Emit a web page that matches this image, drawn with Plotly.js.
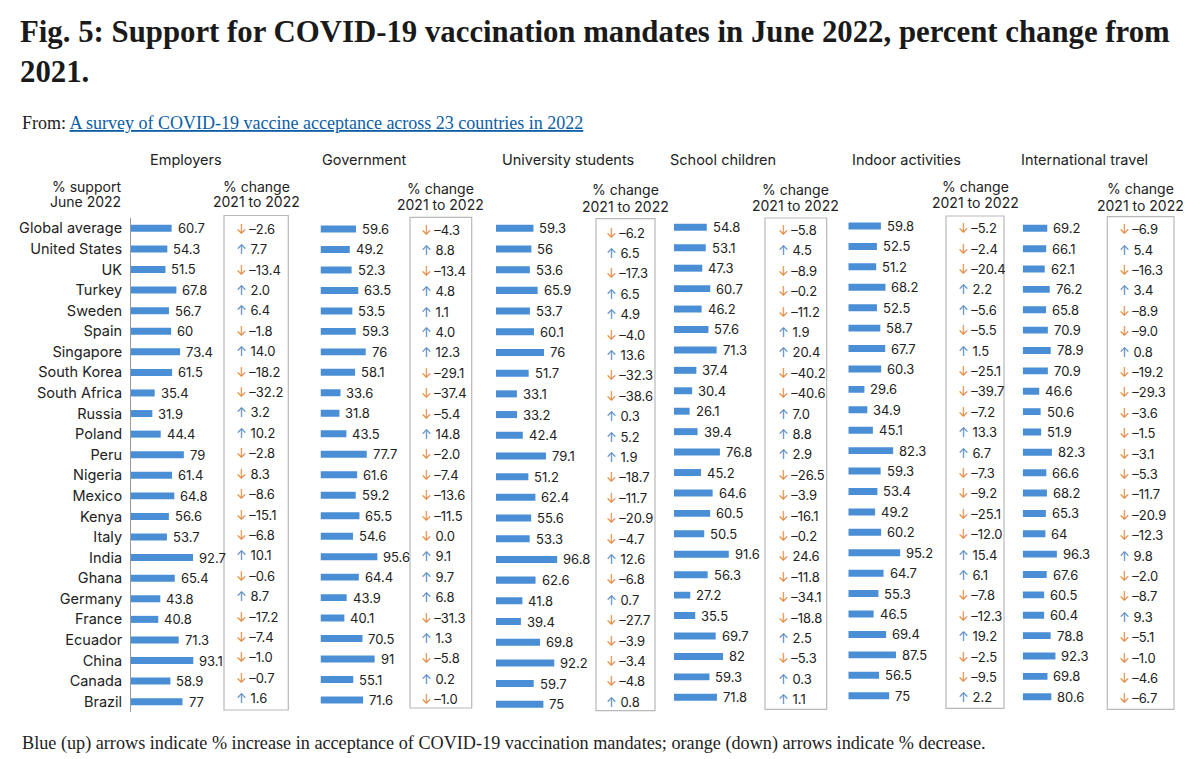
<!DOCTYPE html>
<html><head><meta charset="utf-8">
<script src="https://cdn.plot.ly/plotly-3.0.1.min.js"></script>
<style>html,body{margin:0;padding:0;background:#fff}#chart{width:1200px;height:759px}</style>
</head><body><div id="chart"></div>
<script>
const countries = ["Global average","United States","UK","Turkey","Sweden","Spain","Singapore","South Korea","South Africa","Russia","Poland","Peru","Nigeria","Mexico","Kenya","Italy","India","Ghana","Germany","France","Ecuador","China","Canada","Brazil"];
const panelTitles = ["Employers","Government","University students","School children","Indoor activities","International travel"];

const employersSupport = [60.7,54.3,51.5,67.8,56.7,60,73.4,61.5,35.4,31.9,44.4,79,61.4,64.8,56.6,53.7,92.7,65.4,43.8,40.8,71.3,93.1,58.9,77];
const employersChange  = [-2.6,7.7,-13.4,2.0,6.4,-1.8,14.0,-18.2,-32.2,3.2,10.2,-2.8,8.3,-8.6,-15.1,-6.8,10.1,-0.6,8.7,-17.2,-7.4,-1.0,-0.7,1.6];
const employersArrows  = "duduudud" + "duuddddd" + "ududdddu";

const governmentSupport = [59.6,49.2,52.3,63.5,53.5,59.3,76,58.1,33.6,31.8,43.5,77.7,61.6,59.2,65.5,54.6,95.6,64.4,43.9,40.1,70.5,91,55.1,71.6];
const governmentChange  = [-4.3,8.8,-13.4,4.8,1.1,4.0,12.3,-29.1,-37.4,-5.4,14.8,-2.0,-7.4,-13.6,-11.5,0.0,9.1,9.7,6.8,-31.3,1.3,-5.8,0.2,-1.0];
const governmentArrows  = "duduuuud" + "dduddddd" + "uuududud";

const universitySupport = [59.3,56,53.6,65.9,53.7,60.1,76,51.7,33.1,33.2,42.4,79.1,51.2,62.4,55.6,53.3,96.8,62.6,41.8,39.4,69.8,92.2,59.7,75];
const universityChange  = [-6.2,6.5,-17.3,6.5,4.9,-4.0,13.6,-32.3,-38.6,0.3,5.2,1.9,-18.7,-11.7,-20.9,-4.7,12.6,-6.8,0.7,-27.7,-3.9,-3.4,-4.8,0.8];
const universityArrows  = "duduudud" + "duuudddd" + "ududdddu";

const schoolSupport = [54.8,53.1,47.3,60.7,46.2,57.6,71.3,37.4,30.4,26.1,39.4,76.8,45.2,64.6,60.5,50.5,91.6,56.3,27.2,35.5,69.7,82,59.3,71.8];
const schoolChange  = [-5.8,4.5,-8.9,-0.2,-11.2,1.9,20.4,-40.2,-40.6,7.0,8.8,2.9,-26.5,-3.9,-16.1,-0.2,24.6,-11.8,-34.1,-18.8,2.5,-5.3,0.3,1.1];
const schoolArrows  = "duddduud" + "duuudddd" + "dddduduu";

const indoorSupport = [59.8,52.5,51.2,68.2,52.5,58.7,67.7,60.3,29.6,34.9,45.1,82.3,59.3,53.4,49.2,60.2,95.2,64.7,55.3,46.5,69.4,87.5,56.5,75];
const indoorChange  = [-5.2,-2.4,-20.4,2.2,-5.6,-5.5,1.5,-25.1,-39.7,-7.2,13.3,6.7,-7.3,-9.2,-25.1,-12.0,15.4,6.1,-7.8,-12.3,19.2,-2.5,-9.5,2.2];
const indoorArrows  = "ddduudud" + "dduudddd" + "uudduddu";

const travelSupport = [69.2,66.1,62.1,76.2,65.8,70.9,78.9,70.9,46.6,50.6,51.9,82.3,66.6,68.2,65.3,64,96.3,67.6,60.5,60.4,78.8,92.3,69.8,80.6];
const travelChange  = [-6.9,5.4,-16.3,3.4,-8.9,-9.0,0.8,-19.2,-29.3,-3.6,-1.5,-3.1,-5.3,-11.7,-20.9,-12.3,9.8,-2.0,-8.7,9.3,-5.1,-1.0,-4.6,-6.7];
const travelArrows  = "dududdud" + "dddddddd" + "uddudddd";

const supports = [employersSupport, governmentSupport, universitySupport, schoolSupport, indoorSupport, travelSupport];
const changes  = [employersChange, governmentChange, universityChange, schoolChange, indoorChange, travelChange];
const arrows   = [employersArrows, governmentArrows, universityArrows, schoolArrows, indoorArrows, travelArrows];

// ---- geometry (pixels) ----
const W = 1200, H = 759;
const px = v => v / W;
const py = v => 1 - v / H;
const geom = [
  {barX0:131,   scale:0.669, barTop:228.3, barBot:701.7, chgTop:228.7, chgBot:698.3, boxL:224,    boxR:288.3,  boxT:215.5, boxB:710,   chgX:234,  titleX:148,  headY1:186, headY2:202},
  {barX0:320.5, scale:0.595, barTop:229.0, barBot:700.0, chgTop:230.0, chgBot:699.3, boxL:410,    boxR:471.7,  boxT:217.3, boxB:708,   chgX:419,  titleX:320,  headY1:188, headY2:204},
  {barX0:496,   scale:0.632, barTop:228.3, barBot:704.3, chgTop:232.7, chgBot:701.7, boxL:596,    boxR:655,    boxT:218.7, boxB:710.7, chgX:604,  titleX:500,  headY1:189, headY2:206},
  {barX0:674,   scale:0.598, barTop:227.3, barBot:697.3, chgTop:230.0, chgBot:699.3, boxL:765,    boxR:826.7,  boxT:218,   boxB:709.3, chgX:775.5,titleX:668,  headY1:189, headY2:205},
  {barX0:848.3, scale:0.545, barTop:226.0, barBot:695.7, chgTop:228.3, chgBot:697.3, boxL:946,    boxR:1004,   boxT:216,   boxB:708.3, chgX:955.5,titleX:850,  headY1:186, headY2:203},
  {barX0:1022.7,scale:0.355, barTop:228.3, barBot:696.7, chgTop:229.3, chgBot:698.3, boxL:1107.3, boxR:1174,   boxT:216.7, boxB:709.3, chgX:1117, titleX:1019, headY1:188, headY2:205}
];
const N = countries.length;
const domainFor = (top, bot) => {
  const step = (bot - top) / (N - 1);
  return [py(bot + step / 2), py(top - step / 2)];
};

const SANS = "Inter, 'Noto Sans', sans-serif";
const SERIF = "'Liberation Serif', 'DejaVu Serif', serif";
const BAR = "#4a8fd5";
const UP = "#4f86bd";
const DOWN = "#e3883a";
const TXT = "#222222";

const fmtChange = v => (v < 0 ? "\u2013" + Math.abs(v).toFixed(1) : v.toFixed(1));

const traces = [];
const layout = {
  width: W, height: H,
  margin: {l: 0, r: 0, t: 0, b: 0},
  paper_bgcolor: "#ffffff", plot_bgcolor: "rgba(0,0,0,0)",
  showlegend: false,
  font: {family: SANS, color: TXT},
  title: {
    text: "Fig. 5: Support for COVID-19 vaccination mandates in June 2022, percent change from<br>2021.",
    x: px(20), xref: "container", xanchor: "left",
    y: 1 - 42 / H, yref: "container", yanchor: "top",
    font: {family: SERIF, size: 30.8, color: "#1a1a1a", weight: "bold"}
  },
  annotations: [],
  shapes: []
};

geom.forEach((g, i) => {
  const k = i + 1;
  const xa = k === 1 ? "x" : "x" + k;
  const ya = k === 1 ? "y" : "y" + k;
  const cy = "y" + (k + 6);
  const width = 95;
  layout[k === 1 ? "xaxis" : "xaxis" + k] = {
    domain: [px(g.barX0), px(g.barX0 + width)],
    range: [0, width / g.scale], anchor: ya,
    showgrid: false, zeroline: false, showline: false, showticklabels: false, ticks: "", fixedrange: true
  };
  layout[k === 1 ? "yaxis" : "yaxis" + k] = {
    domain: domainFor(g.barTop, g.barBot), anchor: xa,
    type: "category", categoryorder: "array", categoryarray: countries,
    range: [N - 0.5, -0.5],
    showgrid: false, zeroline: false,
    showline: k === 1, linecolor: "#9a9a9a", linewidth: 1,
    showticklabels: k === 1,
    ticks: k === 1 ? "outside" : "", ticklen: 5, tickcolor: "rgba(0,0,0,0)",
    tickfont: {family: SANS, size: 14.5, color: TXT},
    automargin: false, fixedrange: true
  };
  layout["yaxis" + (k + 6)] = {
    domain: domainFor(g.chgTop, g.chgBot), anchor: xa,
    range: [N - 0.5, -0.5], visible: false, showgrid: false, zeroline: false, fixedrange: true
  };

  traces.push({
    type: "bar", orientation: "h",
    x: supports[i], y: countries,
    xaxis: xa, yaxis: ya,
    width: 0.34,
    marker: {color: BAR},
    hoverinfo: "skip", cliponaxis: false
  });
  traces.push({
    type: "scatter", mode: "markers",
    x: [0], y: [0], xaxis: xa, yaxis: cy,
    marker: {opacity: 0, size: 1}, hoverinfo: "skip"
  });

  // value labels
  supports[i].forEach((v, j) => {
    layout.annotations.push({
      x: v, y: j, xref: xa, yref: ya,
      text: String(v), showarrow: false,
      xanchor: "left", yanchor: "middle", xshift: 4,
      font: {family: SANS, size: 13, color: TXT}
    });
  });
  // change labels
  changes[i].forEach((v, j) => {
    const up = arrows[i][j] === "u";
    layout.annotations.push({
      x: px(g.chgX), y: j, xref: "paper", yref: cy,
      text: `<span style="color:${up ? UP : DOWN}">${up ? "\u2191" : "\u2193"}</span>${v < 0 ? "\u2009" : " "}${fmtChange(v)}`,
      showarrow: false, xanchor: "left", yanchor: "middle",
      font: {family: SANS, size: 13, color: TXT}
    });
  });
  // panel title
  layout.annotations.push({
    x: px(g.titleX), y: py(159), xref: "paper", yref: "paper",
    text: panelTitles[i], showarrow: false, xanchor: "left", yanchor: "middle",
    font: {family: SANS, size: 14.5, color: TXT}
  });
  // change header
  const cx = (g.boxL + g.boxR) / 2;
  layout.annotations.push({
    x: px(cx), y: py(g.headY1), xref: "paper", yref: "paper",
    text: "% change", showarrow: false, xanchor: "center", yanchor: "middle",
    font: {family: SANS, size: 14, color: TXT}
  });
  layout.annotations.push({
    x: px(cx), y: py(g.headY2), xref: "paper", yref: "paper",
    text: "2021 to 2022", showarrow: false, xanchor: "center", yanchor: "middle",
    font: {family: SANS, size: 14, color: TXT}
  });
  // box
  layout.shapes.push({
    type: "rect", xref: "paper", yref: "paper",
    x0: px(g.boxL), x1: px(g.boxR), y0: py(g.boxB), y1: py(g.boxT),
    line: {color: "#b8b8b8", width: 1.2}, fillcolor: "rgba(0,0,0,0)"
  });
});

// "% support / June 2022"
layout.annotations.push({
  x: px(123), y: py(186), xref: "paper", yref: "paper", text: "% support",
  showarrow: false, xanchor: "right", yanchor: "middle", font: {family: SANS, size: 14, color: TXT}
});
layout.annotations.push({
  x: px(123), y: py(202), xref: "paper", yref: "paper", text: "June 2022",
  showarrow: false, xanchor: "right", yanchor: "middle", font: {family: SANS, size: 14, color: TXT}
});
// source line
layout.annotations.push({
  x: px(20), y: py(123), xref: "paper", yref: "paper",
  text: 'From: <span style="color:#0b5ea6"><u>A survey of COVID-19 vaccine acceptance across 23 countries in 2022</u></span>',
  showarrow: false, xanchor: "left", yanchor: "middle",
  font: {family: SERIF, size: 18, color: TXT}
});
// footnote
layout.annotations.push({
  x: px(20), y: py(743), xref: "paper", yref: "paper",
  text: "Blue (up) arrows indicate % increase in acceptance of COVID-19 vaccination mandates; orange (down) arrows indicate % decrease.",
  showarrow: false, xanchor: "left", yanchor: "middle",
  font: {family: SERIF, size: 18.2, color: TXT}
});

Plotly.newPlot("chart", traces, layout, {displayModeBar: false, staticPlot: true});
</script>
</body></html>
